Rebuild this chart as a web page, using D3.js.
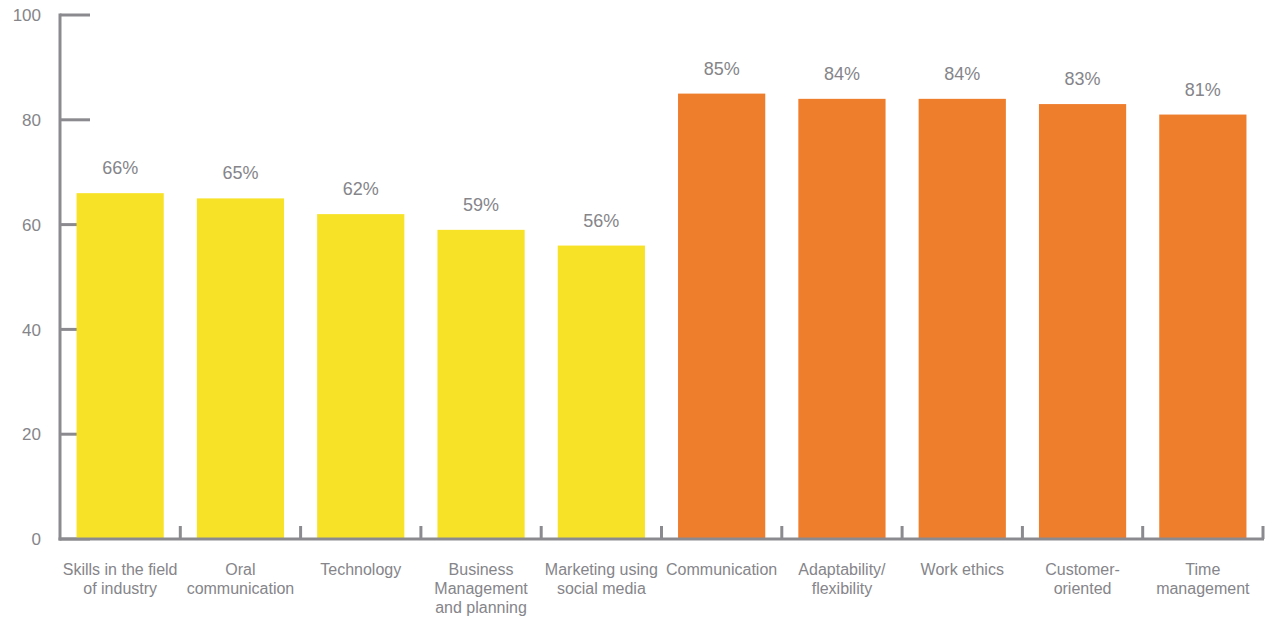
<!DOCTYPE html>
<html>
<head>
<meta charset="utf-8">
<script src="https://cdn.jsdelivr.net/npm/d3@7"></script>
<style>
  html, body { margin: 0; padding: 0; background: #fff; }
  svg { display: block; }
  text { font-family: "Liberation Sans", Arial, Helvetica, sans-serif; fill: #85858a; }
</style>
</head>
<body>
<svg id="chart" width="1266" height="617"></svg>
<script>
// Skills categories (two groups) and their shares in percent
const categories = [
  "Skills in the field|of industry",
  "Oral|communication",
  "Technology",
  "Business|Management|and planning",
  "Marketing using|social media",
  "Communication",
  "Adaptability/|flexibility",
  "Work ethics",
  "Customer-|oriented",
  "Time|management"
];
const values = [66, 65, 62, 59, 56, 85, 84, 84, 83, 81];
const groups = ["a", "a", "a", "a", "a", "b", "b", "b", "b", "b"];
const yTicks = [0, 20, 40, 60, 80, 100];

(function draw() {
  const svg = d3.select("#chart");
  const axisColor = "#8b8b8f";
  const m = { left: 60, right: 1263, top: 15, bottom: 539 };

  const x = d3.scaleBand()
    .domain(d3.range(categories.length))
    .range([m.left, m.right])
    .paddingInner(0.275)
    .paddingOuter(0.1375);

  const y = d3.scaleLinear().domain([0, 100]).range([m.bottom, m.top]);

  const color = d3.scaleOrdinal().domain(["a", "b"]).range(["#f8e228", "#ee7d2c"]);

  // y-axis: inward tick marks drawn behind the bars
  const yAxis = svg.append("g");
  yAxis.selectAll("line")
    .data(yTicks)
    .join("line")
    .attr("x1", m.left).attr("x2", m.left + 30)
    .attr("y1", d => y(d)).attr("y2", d => y(d))
    .attr("stroke", axisColor).attr("stroke-width", 3);

  yAxis.selectAll("text")
    .data(yTicks)
    .join("text")
    .attr("x", 41)
    .attr("y", d => y(d))
    .attr("dy", "0.36em")
    .attr("text-anchor", "end")
    .style("font-size", "17px")
    .text(d => d);

  // bars
  svg.append("g").selectAll("rect")
    .data(values)
    .join("rect")
    .attr("x", (d, i) => x(i))
    .attr("y", d => y(d))
    .attr("width", x.bandwidth())
    .attr("height", d => y(0) - y(d))
    .attr("fill", (d, i) => color(groups[i]));

  // value labels
  svg.append("g").selectAll("text")
    .data(values)
    .join("text")
    .attr("x", (d, i) => x(i) + x.bandwidth() / 2)
    .attr("y", d => y(d) - 19)
    .attr("text-anchor", "middle")
    .style("font-size", "18px")
    .text(d => d + "%");

  // vertical axis line
  svg.append("line")
    .attr("x1", m.left).attr("x2", m.left)
    .attr("y1", m.top - 1.5).attr("y2", m.bottom + 1.5)
    .attr("stroke", axisColor).attr("stroke-width", 3);

  // x-axis baseline and category separators
  const boundaries = d3.range(1, categories.length + 1)
    .map(i => m.left + i * (m.right - m.left) / categories.length);
  svg.append("line")
    .attr("x1", m.left - 1.5).attr("x2", m.right + 1)
    .attr("y1", m.bottom).attr("y2", m.bottom)
    .attr("stroke", axisColor).attr("stroke-width", 3);
  svg.append("g").selectAll("line")
    .data(boundaries)
    .join("line")
    .attr("x1", d => d).attr("x2", d => d)
    .attr("y1", m.bottom).attr("y2", m.bottom - 13)
    .attr("stroke", axisColor).attr("stroke-width", 3);

  // category labels (multi-line)
  const labels = svg.append("g").selectAll("text")
    .data(categories)
    .join("text")
    .attr("x", (d, i) => x(i) + x.bandwidth() / 2)
    .attr("y", 575)
    .attr("text-anchor", "middle")
    .style("font-size", "16px");
  labels.selectAll("tspan")
    .data(d => d.split("|"))
    .join("tspan")
    .attr("x", function () { return this.parentNode.getAttribute("x"); })
    .attr("dy", (d, i) => i === 0 ? 0 : 19)
    .text(d => d);
})();
</script>
</body>
</html>
